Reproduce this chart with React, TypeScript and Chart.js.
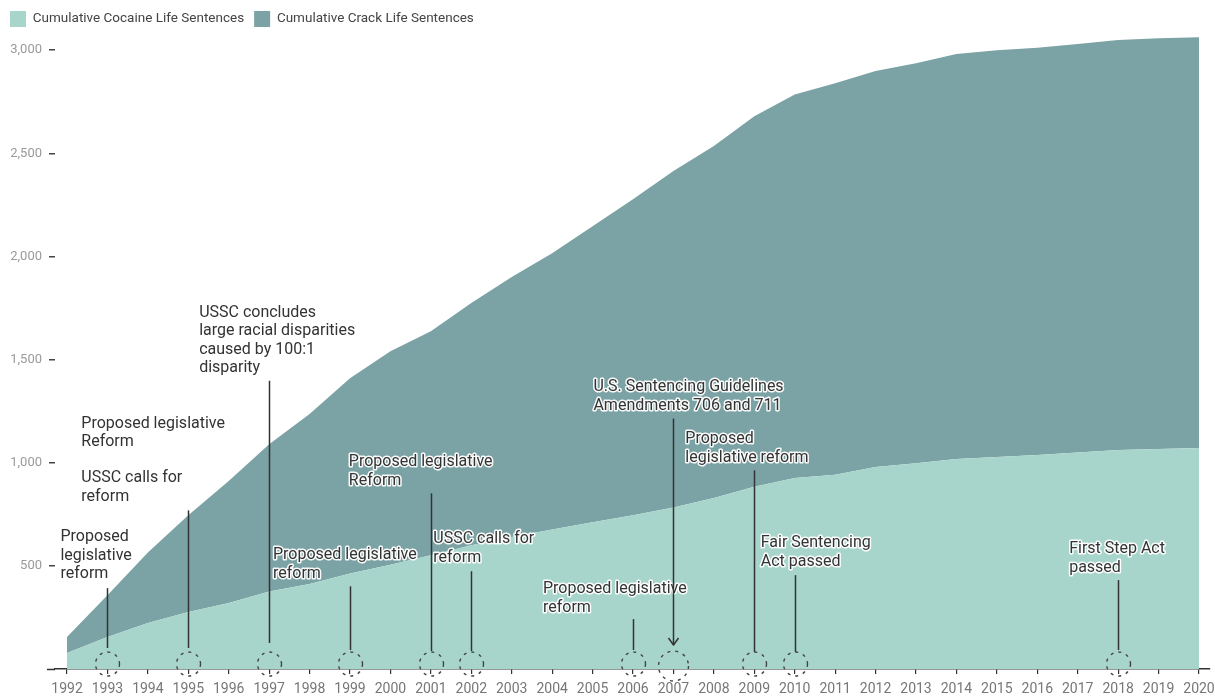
import React, { useEffect, useRef } from "react";
import { Chart, registerables } from "chart.js";

Chart.register(...registerables);

// ---- Data ----
const years: number[] = [
  1992, 1993, 1994, 1995, 1996, 1997, 1998, 1999, 2000, 2001, 2002, 2003, 2004, 2005, 2006,
  2007, 2008, 2009, 2010, 2011, 2012, 2013, 2014, 2015, 2016, 2017, 2018, 2019, 2020,
];
// cumulative cocaine life sentences (bottom layer)
const cocaine: number[] = [
  78, 155, 223, 276, 320, 376, 412, 463, 505, 552, 600, 640, 676, 712, 746,
  783, 829, 884, 926, 942, 979, 998, 1018, 1028, 1037, 1050, 1062, 1066, 1071,
];
// cumulative total (cocaine + crack), as read from the top edge
const totalLife: number[] = [
  155, 358, 565, 745, 912, 1090, 1236, 1410, 1541, 1638, 1774, 1900, 2016, 2147, 2278,
  2414, 2535, 2680, 2785, 2840, 2899, 2937, 2981, 3000, 3012, 3030, 3049, 3058, 3063,
];
// crack layer = total - cocaine
const crack: number[] = totalLife.map((t, i) => t - cocaine[i]);

const yTicks: number[] = [500, 1000, 1500, 2000, 2500, 3000];
const seriesLabels: string[] = ["Cumulative Cocaine Life Sentences", "Cumulative Crack Life Sentences"];

// ---- Annotations (events) ----
type Note = {
  year: number;
  blocks: { lines: string[]; y: number }[];
  dx: number;
  top: number;
  bottomOff: number;
  r?: number;
  arrow?: boolean;
};
const notes: Note[] = [
  { year: 1993, blocks: [{ lines: ["Proposed", "legislative", "reform"], y: 639 }], dx: -47, top: 392, bottomOff: 21 },
  {
    year: 1995,
    blocks: [
      { lines: ["Proposed legislative", "Reform"], y: 1190 },
      { lines: ["USSC calls for", "reform"], y: 924 },
    ],
    dx: -107, top: 769, bottomOff: 21,
  },
  { year: 1997, blocks: [{ lines: ["USSC concludes", "large racial disparities", "caused by 100:1", "disparity"], y: 1727 }], dx: -70, top: 1398, bottomOff: 26 },
  { year: 1999, blocks: [{ lines: ["Proposed legislative", "reform"], y: 552 }], dx: -77, top: 401, bottomOff: 19 },
  { year: 2001, blocks: [{ lines: ["Proposed legislative", "Reform"], y: 1002 }], dx: -82, top: 852, bottomOff: 18 },
  { year: 2002, blocks: [{ lines: ["USSC calls for", "reform"], y: 629 }], dx: -38, top: 474, bottomOff: 18 },
  { year: 2006, blocks: [{ lines: ["Proposed legislative", "reform"], y: 387 }], dx: -90, top: 242, bottomOff: 19 },
  { year: 2007, blocks: [{ lines: ["U.S. Sentencing Guidelines", "Amendments 706 and 711"], y: 1365 }], dx: -80, top: 1214, bottomOff: 24, r: 15, arrow: true },
  { year: 2009, blocks: [{ lines: ["Proposed", "legislative reform"], y: 1113 }], dx: -69, top: 963, bottomOff: 17 },
  { year: 2010, blocks: [{ lines: ["Fair Sentencing", "Act passed"], y: 610 }], dx: -34, top: 455, bottomOff: 17 },
  { year: 2018, blocks: [{ lines: ["First Step Act", "passed"], y: 581 }], dx: -49, top: 431, bottomOff: 19 },
];

const FONT = "Roboto, 'Noto Sans', sans-serif";

const annotationPlugin = {
  id: "events",
  afterDatasetsDraw(chart: any) {
    const { ctx, chartArea, scales } = chart;
    const xs = scales.x;
    const ys = scales.y;
    ctx.save();
    // axis line extension to the left of the plot area
    ctx.strokeStyle = "#333";
    ctx.lineWidth = 1.5;
    ctx.beginPath();
    ctx.moveTo(chartArea.left - 8, chartArea.bottom + 0.5);
    ctx.lineTo(chartArea.left, chartArea.bottom + 0.5);
    ctx.stroke();
    // texts with white halo
    ctx.font = `16px ${FONT}`;
    ctx.textAlign = "left";
    ctx.textBaseline = "middle";
    ctx.lineJoin = "round";
    for (const n of notes) {
      const x0 = xs.getPixelForValue(n.year) + n.dx;
      for (const b of n.blocks) {
        const y0 = ys.getPixelForValue(b.y);
        b.lines.forEach((t, i) => {
          const yy = y0 + i * 18.5;
          ctx.strokeStyle = "rgba(255,255,255,0.95)";
          ctx.lineWidth = 3;
          ctx.strokeText(t, x0, yy);
          ctx.fillStyle = "#333";
          ctx.fillText(t, x0, yy);
        });
      }
    }
    // lines and circles
    for (const n of notes) {
      const x = Math.round(xs.getPixelForValue(n.year)) + 0.5;
      const yTop = ys.getPixelForValue(n.top);
      const yBot = chartArea.bottom - n.bottomOff;
      ctx.setLineDash([]);
      ctx.strokeStyle = "#333";
      ctx.lineWidth = 1.5;
      ctx.beginPath();
      ctx.moveTo(x, yTop);
      ctx.lineTo(x, yBot);
      ctx.stroke();
      if (n.arrow) {
        ctx.beginPath();
        ctx.moveTo(x - 5, yBot - 7);
        ctx.lineTo(x, yBot);
        ctx.lineTo(x + 5, yBot - 7);
        ctx.stroke();
      }
      const r = n.r || 12;
      ctx.setLineDash([3, 5]);
      ctx.lineWidth = 1.4;
      ctx.strokeStyle = "#444";
      ctx.beginPath();
      ctx.arc(x, chartArea.bottom - (n.r ? 3 : 5), r, 0, Math.PI * 2);
      ctx.stroke();
    }
    ctx.restore();
  },
};

export default function App() {
  const ref = useRef<HTMLCanvasElement | null>(null);
  useEffect(() => {
    if (!ref.current) return;
    Chart.defaults.font.family = FONT;
    const chart = new Chart(ref.current, {
      type: "line",
      data: {
        datasets: [
          {
            label: seriesLabels[0],
            data: years.map((y, i) => ({ x: y, y: cocaine[i] })),
            backgroundColor: "#a8d5cb",
            borderColor: "rgba(0,0,0,0)",
            borderWidth: 0,
            pointRadius: 0,
            fill: "origin",
            tension: 0,
          },
          {
            label: seriesLabels[1],
            data: years.map((y, i) => ({ x: y, y: crack[i] })),
            backgroundColor: "#7ba2a4",
            borderColor: "rgba(0,0,0,0)",
            borderWidth: 0,
            pointRadius: 0,
            fill: "-1",
            tension: 0,
          },
        ],
      },
      options: {
        responsive: false,
        animation: false,
        layout: { padding: { left: 0, right: 5, top: 1, bottom: 0 } },
        plugins: {
          legend: {
            position: "top",
            align: "start",
            labels: {
              boxWidth: 16,
              boxHeight: 16,
              padding: 10,
              color: "#444",
              font: { size: 13.5, family: FONT },
            },
          },
          tooltip: { enabled: false },
        },
        scales: {
          x: {
            type: "linear",
            min: 1991.703,
            max: 2020.272,
            afterBuildTicks: (s: any) => {
              s.ticks = years.map((v) => ({ value: v }));
            },
            afterFit: (s: any) => {
              s.height = 29;
            },
            ticks: {
              autoSkip: false,
              maxRotation: 0,
              padding: 0,
              color: "#777",
              font: { size: 14, family: FONT, lineHeight: 2.25 },
              callback: (v: any) => String(v),
            },
            grid: { drawOnChartArea: false, drawTicks: true, tickLength: 5, color: "#333", lineWidth: 1.2 },
            border: { display: true, color: "#333", width: 1.5 },
          },
          y: {
            type: "linear",
            stacked: true,
            min: 0,
            max: 3064,
            afterBuildTicks: (s: any) => {
              s.ticks = yTicks.map((v) => ({ value: v }));
            },
            afterFit: (s: any) => {
              s.width = 55;
            },
            ticks: {
              padding: 7,
              color: "#9a9a9a",
              font: { size: 13, family: FONT },
              callback: (v: any) => Number(v).toLocaleString("en-US"),
            },
            grid: { drawOnChartArea: false, drawTicks: true, tickLength: 6, color: "#444", lineWidth: 1.5 },
            border: { display: false },
          },
        },
      },
      plugins: [annotationPlugin],
    } as any);
    return () => chart.destroy();
  }, []);
  return (
    <div style={{ position: "absolute", left: 0, top: 0, width: 1215, height: 698, background: "#fff" }}>
      <canvas ref={ref} width={1215} height={698} style={{ display: "block" }} />
    </div>
  );
}
